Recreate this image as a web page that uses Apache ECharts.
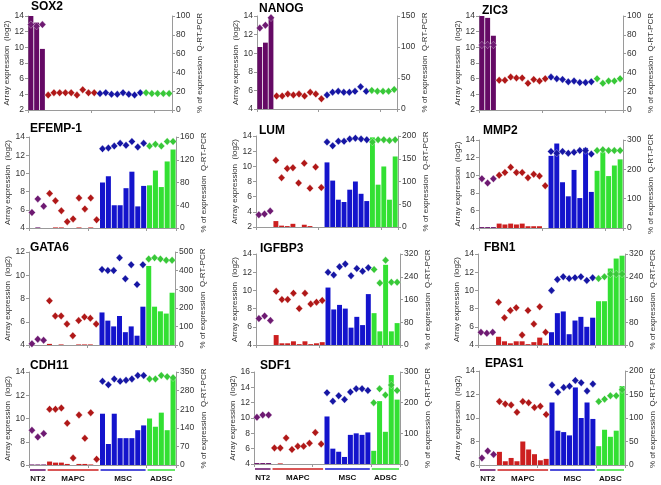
<!DOCTYPE html>
<html><head><meta charset="utf-8">
<script src="https://cdn.jsdelivr.net/npm/echarts@6/dist/echarts.min.js"></script>
<style>html,body{margin:0;padding:0;background:#fff}#c{width:661px;height:485px}</style>
</head><body><div id="c"></div>
<script>
// ---- data ----
const groups = ['NT2', 'MAPC', 'MSC', 'ADSC'];
const groupSizes = [3, 9, 8, 5];
const genes = ['SOX2','NANOG','ZIC3','EFEMP-1','LUM','MMP2','GATA6','IGFBP3','FBN1','CDH11','SDF1','EPAS1'];
const leftMin = [2,4,2,4,2,4,4,4,4,6,4,6];
const leftMax = [14,14,14,14,14,14,12,14,14,14,16,14];
const rightMax = [100,150,100,160,200,300,500,320,320,350,300,200];
const rightStep = [20,50,20,40,50,100,100,80,80,70,100,50];

const SOX2_array = [12.9,12.7,12.9, 3.9,4.2,4.2,4.2,4.2,3.9,4.6,4.2,4.2, 4.1,4.2,4.0,4.0,4.2,4.0,3.9,4.2, 4.2,4.1,4.1,4.1,4.1];
const SOX2_pcr   = [100,93,65, 0,0,0,0,0,0,0,0,0, 0,0,0,0,0,0,0,0, 0,0,0,0,0];
const NANOG_array = [12.7,13.0,13.8, 5.4,5.4,5.6,5.5,5.6,5.4,5.8,5.6,5.1, 5.5,5.8,5.9,5.8,5.8,5.9,6.4,5.9, 6.0,5.9,5.9,5.9,6.1];
const NANOG_pcr   = [100,107,148, 0,0,0,0,0,0,0,0,0, 0,0,0,0,0,0,0,0, 0,0,0,0,0];
const ZIC3_array = [10.3,10.3,10.3, 5.8,5.8,6.2,6.1,6.1,5.4,5.9,5.7,6.0, 6.2,6.0,5.9,5.6,5.7,5.5,5.5,5.6, 6.0,5.4,5.7,5.7,6.0];
const ZIC3_pcr   = [100,98,79, 0,0,0,0,0,0,0,0,0, 0,0,0,0,0,0,0,0, 0,0,0,0,0];
const EFEMP1_array = [5.7,7.2,6.4, 7.8,7.0,5.9,4.7,5.0,7.3,6.1,7.3,4.9, 12.7,12.8,13.0,13.3,13.1,13.5,12.9,13.3, 13.0,13.2,13.0,13.5,13.5];
const EFEMP1_pcr   = [0,1,0, 0,1,1,0,0,1,0,1,0, 80,91,40,40,70,99,38,74, 75,101,72,117,138];
const LUM_array = [3.6,3.7,4.1, 10.8,8.5,9.7,9.8,7.8,10.4,7.1,9.9,7.2, 13.2,12.7,13.3,13.3,13.6,13.7,13.6,13.5, 13.2,13.5,13.5,13.4,13.5];
const LUM_pcr   = [0,0,0, 13,3,2,7,0,5,2,0,0, 142,102,60,55,82,100,73,57, 197,93,133,60,155];
const MMP2_array = [9.6,9.1,9.6, 10.0,10.3,10.9,10.3,10.3,9.7,10.1,9.9,8.8, 12.7,12.5,12.7,12.5,12.6,12.8,12.8,12.4, 12.8,12.9,12.8,12.8,12.8];
const MMP2_pcr   = [3,3,3, 15,12,15,12,15,6,6,6,0, 246,288,156,108,198,102,273,123, 195,258,177,213,234];
const GATA6_array = [4.1,4.5,4.4, 7.8,6.5,6.5,5.8,4.8,6.1,6.4,6.3,5.8, 10.5,10.4,10.4,11.5,9.7,10.9,9.2,10.9, 11.4,11.5,11.4,11.3,11.3];
const GATA6_pcr   = [0,0,0, 6,0,3,0,0,3,3,3,0, 175,131,100,156,69,100,50,206, 425,206,181,169,281];
const IGFBP3_array = [6.9,7.2,6.7, 9.9,9.0,9.0,9.7,8.0,9.7,8.5,8.7,8.9, 12.0,11.7,12.6,12.9,11.6,12.4,12.1,12.5, 12.3,10.8,13.3,10.9,10.9];
const IGFBP3_pcr   = [0,0,0, 35,6,6,13,3,13,3,6,10, 202,125,141,128,61,99,70,179, 112,48,282,48,77];
const FBN1_array = [5.4,5.3,5.4, 8.7,7.0,7.8,8.1,5.1,7.8,6.3,8.2,5.4, 10.0,11.2,11.5,11.3,11.4,11.5,11.1,11.4, 11.3,11.5,11.8,11.8,11.8];
const FBN1_pcr   = [0,0,0, 29,13,6,13,13,3,10,26,6, 45,112,118,38,86,99,64,96, 154,154,269,304,314];
const CDH11_array = [9.0,8.4,8.7, 10.8,10.8,10.9,9.6,6.6,10.3,8.3,10.5,6.5, 13.2,12.9,13.4,13.2,13.3,13.4,13.7,13.7, 13.4,13.4,13.7,13.6,13.5];
const CDH11_pcr   = [2,2,2, 13,9,9,4,0,4,4,2,0, 193,79,193,101,101,101,131,149, 175,144,197,131,328];
const SDF1_array = [10.1,10.4,10.4, 6.1,6.1,7.4,5.9,6.3,6.3,6.7,8.1,6.6, 13.3,12.2,12.9,12.4,13.4,13.8,13.8,13.6, 12.0,13.8,13.0,14.3,13.6];
const SDF1_pcr   = [3,3,3, 0,2,0,0,0,0,0,0,0, 155,50,40,23,95,100,95,103, 43,205,105,290,210];
const EPAS1_array = [6.6,7.2,6.9, 11.4,11.2,11.1,10.5,11.4,11.3,10.9,11.0,10.3, 12.8,12.2,12.6,12.7,13.2,13.0,12.3,12.9, 11.4,11.6,11.9,11.9,12.4];
const EPAS1_pcr   = [0,0,0, 28,8,15,8,50,33,23,10,13, 133,73,70,63,165,100,133,98, 40,75,60,73,168];

const arrayData = [SOX2_array,NANOG_array,ZIC3_array,EFEMP1_array,LUM_array,MMP2_array,GATA6_array,IGFBP3_array,FBN1_array,CDH11_array,SDF1_array,EPAS1_array];
const pcrData = [SOX2_pcr,NANOG_pcr,ZIC3_pcr,EFEMP1_pcr,LUM_pcr,MMP2_pcr,GATA6_pcr,IGFBP3_pcr,FBN1_pcr,CDH11_pcr,SDF1_pcr,EPAS1_pcr];

// ---- layout / style ----
const boxes = [
 [28,16,144,94],[257,16,140,93],[479,16,144,94],
 [29,137,147,91],[256,136,142,91],[479,140,144,88],
 [29,252,146,93],[256,254,144,91],[478,254,147,91],
 [29,372,147,93],[254,372,146,92],[479,371,146,94]
];
const titlePos = [[31,1],[259,3],[482,5],[30,123],[259,125],[483,125],[30,242],[260,243],[484,242],[30,360],[260,360],[485,358]];
const barColors = ['#650a65','#cc1f1f','#1414cc','#33e033'];
const dotColors = ['#6e1a72','#b01818','#1616a4','#38c838'];
const FONT = 'Liberation Sans, Arial, sans-serif';

const categories = [];
const groupOf = [];
groups.forEach((g, gi) => { for (let k = 0; k < groupSizes[gi]; k++) { categories.push(g + ' ' + (k + 1)); groupOf.push(gi); } });

const grid = [], xAxis = [], yAxis = [], series = [], title = [];
const axisLineStyle = { lineStyle: { color: '#9a9a9a', width: 1 } };
genes.forEach((gname, i) => {
  const b = boxes[i];
  grid.push({ left: b[0], top: b[1], width: b[2], height: b[3] });
  title.push({ text: gname, left: titlePos[i][0], top: titlePos[i][1], padding: 0,
    textStyle: { fontSize: 12, fontWeight: 'bold', fontFamily: FONT, color: '#000' } });
  xAxis.push({ type: 'category', gridIndex: i, data: categories, boundaryGap: true,
    axisLine: axisLineStyle, axisTick: { show: true, length: 3, lineStyle: { color: '#9a9a9a' } },
    axisLabel: { show: false }, splitLine: { show: false } });
  yAxis.push({ type: 'value', gridIndex: i, position: 'left', min: leftMin[i], max: leftMax[i], interval: 2,
    name: 'Array expression  (log2)', nameLocation: 'middle', nameRotate: 90, nameGap: 17,
    nameTextStyle: { fontSize: 8, fontFamily: FONT, color: '#333' },
    axisLine: { show: true, lineStyle: { color: '#9a9a9a' } }, axisTick: { show: true, length: 3, lineStyle: { color: '#9a9a9a' } },
    axisLabel: { fontSize: 8.5, fontFamily: FONT, color: '#333', margin: 4 }, splitLine: { show: false } });
  yAxis.push({ type: 'value', gridIndex: i, position: 'right', min: 0, max: rightMax[i], interval: rightStep[i],
    name: '% of expression  Q-RT-PCR', nameLocation: 'middle', nameRotate: 90, nameGap: 24,
    nameTextStyle: { fontSize: 8, fontFamily: FONT, color: '#333' },
    axisLine: { show: true, lineStyle: { color: '#9a9a9a' } }, axisTick: { show: true, length: 3, lineStyle: { color: '#9a9a9a' } },
    axisLabel: { fontSize: 8.5, fontFamily: FONT, color: '#333', margin: 4 }, splitLine: { show: false } });
  series.push({ type: 'bar', xAxisIndex: i, yAxisIndex: 2 * i + 1, data: pcrData[i], barCategoryGap: '14%',
    itemStyle: { color: p => barColors[groupOf[p.dataIndex]], borderWidth: 0 },
    silent: true, animation: false });
  series.push({ type: 'scatter', xAxisIndex: i, yAxisIndex: 2 * i, data: arrayData[i], symbol: 'diamond', symbolSize: [7, 7.5],
    itemStyle: { color: p => dotColors[groupOf[p.dataIndex]], borderColor: 'rgba(255,255,255,0.5)', borderWidth: 0.6, opacity: 1 },
    silent: true, animation: false, z: 3 });
});

const chart = echarts.init(document.getElementById('c'), null, { renderer: 'canvas' });
chart.setOption({ animation: false, title, grid, xAxis, yAxis, series });

// group annotations under the bottom row
const graphic = [];
[9, 10, 11].forEach(pi => {
  const b = boxes[pi];
  const band = b[2] / categories.length;
  let start = 0;
  groups.forEach((g, gi) => {
    const end = start + groupSizes[gi] - 1;
    const x0 = chart.convertToPixel({ xAxisIndex: pi }, categories[start]) - band / 2 + 1;
    const x1 = chart.convertToPixel({ xAxisIndex: pi }, categories[end]) + band / 2 - 1;
    const y = b[1] + b[3] + 5;
    graphic.push({ type: 'line', shape: { x1: x0, y1: y, x2: x1, y2: y }, style: { stroke: barColors[gi], lineWidth: 1.5 }, silent: true });
    graphic.push({ type: 'text', x: (x0 + x1) / 2, y: y + 5, style: { text: g, fill: '#111', font: 'bold 8px ' + FONT, textAlign: 'center', textVerticalAlign: 'top' }, silent: true });
    start = end + 1;
  });
});
chart.setOption({ graphic });
</script></body></html>
